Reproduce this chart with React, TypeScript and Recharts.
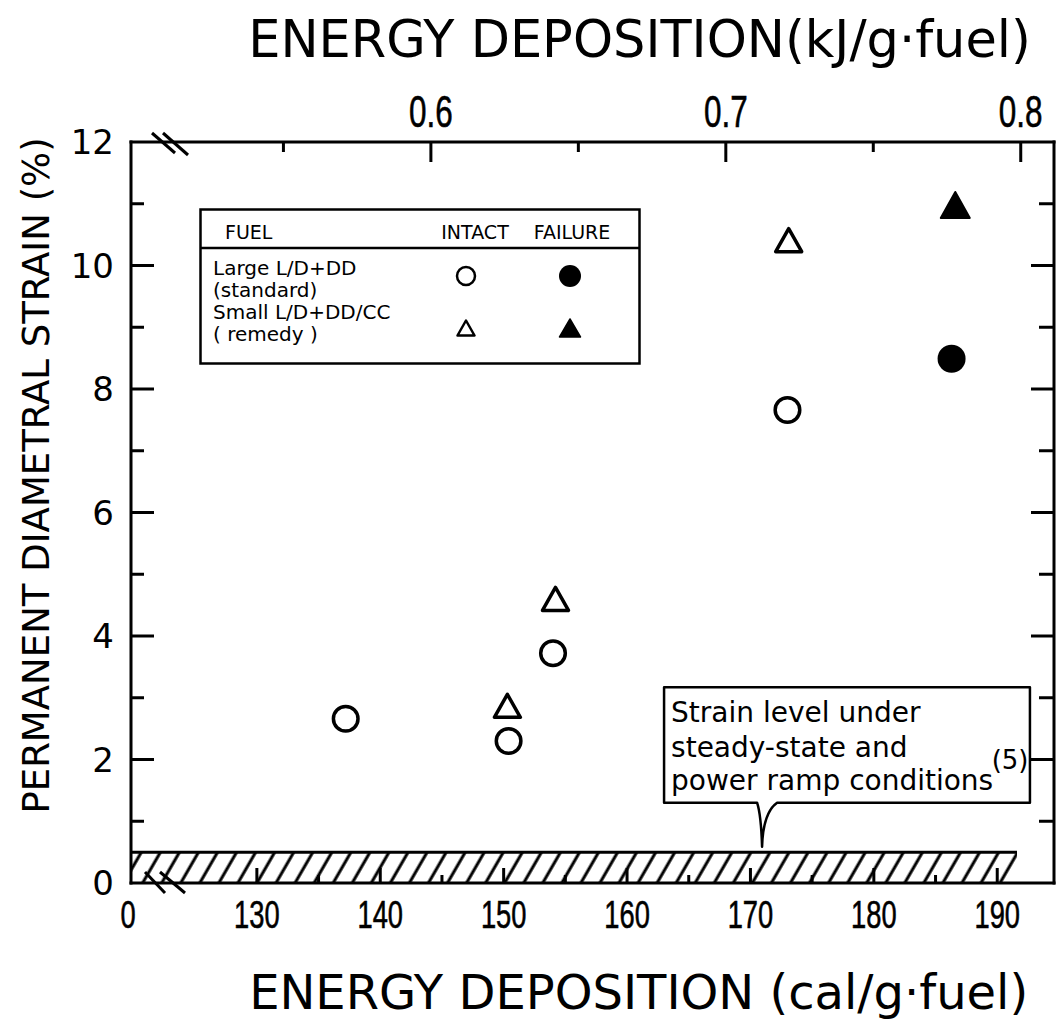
import React from 'react';
import {
  ScatterChart,
  Scatter,
  XAxis,
  YAxis,
  ReferenceArea,
  ReferenceLine,
  Legend,
} from 'recharts';

// energy deposition (cal/g fuel) and permanent diametral strain (%)
const standardIntactEnergy = [137.2, 150.4, 154.0, 173.0];
const standardIntactStrain = [2.66, 2.3, 3.72, 7.66];
const standardFailureEnergy = [186.3];
const standardFailureStrain = [8.49];
const remedyIntactEnergy = [150.3, 154.2, 173.1];
const remedyIntactStrain = [2.87, 4.6, 10.41];
const remedyFailureEnergy = [186.6];
const remedyFailureStrain = [10.98];

const calTicks = [130, 135, 140, 145, 150, 155, 160, 165, 170, 175, 180, 185, 190];
const kjTicks = [0.55, 0.6, 0.65, 0.7, 0.75, 0.8];
const strainTicks = [0, 1, 2, 3, 4, 5, 6, 7, 8, 9, 10, 11, 12];

const xBreak = 119.8; // broken axis, shown as "0"
const xMax = 194.6;
const CAL_PER_KJ = 1000 / 4.184;
const topShift = 0.7; // the printed kJ scale sits slightly right of the exact conversion

// steady-state / power ramp strain level band
const steadyStrain = 0.5;
const steadyEnergyEnd = 191.6;

const legendRows = [
  { lines: ['Large L/D+DD', ' (standard)'], intact: 'circle', failure: 'circle' },
  { lines: ['Small L/D+DD/CC', ' ( remedy )'], intact: 'triangle', failure: 'triangle' },
];

const zip = (xs: number[], ys: number[]) => xs.map((x, i) => ({ x, y: ys[i] }));

const TITLE_FONT = "'DejaVu Sans', sans-serif";
const NUM_FONT = "'Liberation Sans', Arial, sans-serif";
const INK = '#000';

const triPath = (cx: number, cy: number, w: number, h: number) =>
  `M${cx},${cy - h / 2} L${cx + w / 2},${cy + h / 2} L${cx - w / 2},${cy + h / 2} Z`;

const OpenCircle = ({ cx, cy }: any) => (
  <circle cx={cx} cy={cy} r={12.3} fill="none" stroke={INK} strokeWidth={3.5} />
);
const FilledCircle = ({ cx, cy }: any) => <circle cx={cx} cy={cy} r={14} fill={INK} />;
const OpenTriangle = ({ cx, cy }: any) => (
  <path d={triPath(cx, cy, 26, 23)} fill="none" stroke={INK} strokeWidth={3.5} strokeLinejoin="round" />
);
const FilledTriangle = ({ cx, cy }: any) => (
  <path d={triPath(cx, cy, 29, 26)} fill={INK} stroke={INK} strokeWidth={2} strokeLinejoin="round" />
);

const NarrowNum = ({ x, y, size = 39, children }: any) => (
  <g transform={`translate(${x},${y})`}>
    <text
      transform="scale(0.7,1)"
      textAnchor="middle"
      fontFamily={NUM_FONT}
      fontSize={size}
      fill={INK}
      stroke={INK}
      strokeWidth={0.6}
    >
      {children}
    </text>
  </g>
);

function BottomTick({ x, y, payload }: any) {
  const v = payload.value;
  if (v === xBreak) {
    return (
      <g>
        <line x1={x + 14} y1={y - 11} x2={x + 34} y2={y + 10} stroke={INK} strokeWidth={3} />
        <line x1={x + 29} y1={y - 11} x2={x + 54} y2={y + 10} stroke={INK} strokeWidth={3} />
        <NarrowNum x={x - 3} y={y + 45}>0</NarrowNum>
      </g>
    );
  }
  const major = v % 10 === 0;
  return (
    <g>
      <line x1={x} y1={y} x2={x} y2={y - (major ? 15 : 8)} stroke={INK} strokeWidth={3} />
      {major && <NarrowNum x={x} y={y + 45}>{v}</NarrowNum>}
    </g>
  );
}

function TopTick({ x, y, payload }: any) {
  const v = payload.value;
  if (v === xBreak - topShift) {
    return (
      <g>
        <line x1={x + 21} y1={y - 9} x2={x + 44} y2={y + 11} stroke={INK} strokeWidth={3} />
        <line x1={x + 32} y1={y - 9} x2={x + 57} y2={y + 13} stroke={INK} strokeWidth={3} />
      </g>
    );
  }
  const kj = Math.round((v / CAL_PER_KJ) * 100) / 100;
  const major = Math.round(kj * 100) % 10 === 0;
  return (
    <g>
      <line x1={x} y1={y} x2={x} y2={y + (major ? 20 : 10)} stroke={INK} strokeWidth={3} />
      {major && (
        <NarrowNum x={x} y={y - 15} size={45}>
          {kj.toFixed(1)}
        </NarrowNum>
      )}
    </g>
  );
}

function LeftTick({ x, y, payload }: any) {
  const v = payload.value;
  const major = v % 2 === 0;
  const inner = v > 0 && v < 12;
  return (
    <g>
      {inner && <line x1={x} y1={y} x2={x + (major ? 23 : 13)} y2={y} stroke={INK} strokeWidth={3} />}
      {major && (
        <text x={x - 17} y={y} dy="0.36em" textAnchor="end" fontFamily={TITLE_FONT} fontSize={34} fill={INK}>
          {v}
        </text>
      )}
    </g>
  );
}

function RightTick({ x, y, payload }: any) {
  const v = payload.value;
  if (v <= 0 || v >= 12) return <g />;
  const major = v % 2 === 0;
  return <line x1={x} y1={y} x2={x - (major ? 23 : 15)} y2={y} stroke={INK} strokeWidth={3} />;
}

function LegendMarker({ kind, filled, cx, cy }: any) {
  if (kind === 'circle') {
    return filled ? (
      <circle cx={cx} cy={cy} r={11} fill={INK} />
    ) : (
      <circle cx={cx} cy={cy} r={9} fill="none" stroke={INK} strokeWidth={2.5} />
    );
  }
  return filled ? (
    <path d={triPath(cx, cy, 21, 18)} fill={INK} stroke={INK} strokeWidth={1.5} strokeLinejoin="round" />
  ) : (
    <path d={triPath(cx, cy, 17, 15)} fill="none" stroke={INK} strokeWidth={2.5} strokeLinejoin="round" />
  );
}

function LegendTable() {
  return (
    <svg width={442} height={157} style={{ display: 'block' }}>
      <rect x={1.5} y={1.5} width={439} height={154} fill="#fff" stroke={INK} strokeWidth={2.5} />
      <line x1={1.5} y1={40} x2={440.5} y2={40} stroke={INK} strokeWidth={2.5} />
      <g fontFamily={TITLE_FONT} fontSize={19} fill={INK}>
        <text x={26} y={31}>FUEL</text>
        <text x={276} y={31} textAnchor="middle">INTACT</text>
        <text x={373} y={31} textAnchor="middle">FAILURE</text>
        {legendRows.map((row, i) => (
          <g key={row.lines[0]}>
            <text x={14} y={67 + i * 44} fontSize={20}>{row.lines[0]}</text>
            <text x={14} y={89 + i * 44} fontSize={20}>{row.lines[1]}</text>
            <LegendMarker kind={row.intact} filled={false} cx={267} cy={68 + i * 52} />
            <LegendMarker kind={row.failure} filled cx={371} cy={68 + i * 52} />
          </g>
        ))}
      </g>
    </svg>
  );
}

// callout box: "Strain level under steady-state ..."
const noteLeft = 163.0;
const noteRight = 192.65;
const noteBottom = 1.3;
const noteTop = 3.17;

function NoteShape({ x, y, width, height }: any) {
  const b = y + height;
  const d = `M${x},${y} H${x + width} V${b} H${x + 113} Q${x + 99},${b + 10} ${x + 98},${b + 44} Q${x + 97},${b + 12} ${x + 93},${b} H${x} Z`;
  return (
    <g>
      <path d={d} fill="#fff" stroke={INK} strokeWidth={2.5} strokeLinejoin="round" />
      <g fontFamily={TITLE_FONT} fontSize={28} fill={INK}>
        <text x={x + 7} y={y + 35}>Strain level under</text>
        <text x={x + 7} y={y + 70}>steady-state and</text>
        <text x={x + 7} y={y + 103}>power ramp conditions</text>
        <text x={x + 346} y={y + 82} fontSize={26} textAnchor="middle">(5)</text>
      </g>
    </g>
  );
}

const axisLine = { stroke: INK, strokeWidth: 3, strokeLinecap: 'square' as const };

export default function App() {
  const topTicks = [xBreak - topShift, ...kjTicks.map((k) => k * CAL_PER_KJ)];
  return (
    <div style={{ position: 'absolute', left: 0, top: 0, background: '#fff' }}>
      <ScatterChart width={1061} height={1022} margin={{ top: 0, right: 0, bottom: 0, left: 0 }}>
        <defs>
          <pattern id="hatch" patternUnits="userSpaceOnUse" width={16.5} height={16.5} patternTransform="rotate(30)">
            <line x1={4} y1={0} x2={4} y2={16.5} stroke={INK} strokeWidth={3} />
          </pattern>
        </defs>
        <XAxis
          xAxisId="bottom"
          type="number"
          dataKey="x"
          scale="linear"
          domain={[xBreak, xMax]}
          ticks={[xBreak, ...calTicks]}
          interval={0}
          height={139}
          tickSize={0}
          tickMargin={0}
          tickLine={false}
          axisLine={axisLine}
          tick={<BottomTick />}
          allowDataOverflow
          label={({ viewBox }: any) => (
            <text
              x={viewBox.x + viewBox.width * 0.55}
              y={viewBox.y + 126}
              textAnchor="middle"
              fontFamily={TITLE_FONT}
              fontSize={48}
              fill={INK}
            >
              ENERGY DEPOSITION (cal/g·fuel)
            </text>
          )}
        />
        <XAxis
          xAxisId="top"
          orientation="top"
          type="number"
          dataKey="x"
          scale="linear"
          domain={[xBreak - topShift, xMax - topShift]}
          ticks={topTicks}
          interval={0}
          height={142}
          tickSize={0}
          tickMargin={0}
          tickLine={false}
          axisLine={axisLine}
          tick={<TopTick />}
          allowDataOverflow
          label={({ viewBox }: any) => (
            <text
              x={viewBox.x + viewBox.width * 0.551}
              y={viewBox.y + 57}
              textAnchor="middle"
              fontFamily={TITLE_FONT}
              fontSize={51}
              fill={INK}
            >
              ENERGY DEPOSITION(kJ/g·fuel)
            </text>
          )}
        />
        <YAxis
          yAxisId="left"
          type="number"
          dataKey="y"
          domain={[0, 12]}
          ticks={strainTicks}
          interval={0}
          width={131}
          tickSize={0}
          tickMargin={0}
          tickLine={false}
          axisLine={axisLine}
          tick={<LeftTick />}
          allowDataOverflow
          label={({ viewBox }: any) => {
            const lx = viewBox.x + 49;
            const ly = viewBox.y + viewBox.height * 0.45;
            return (
              <text
                x={lx}
                y={ly}
                transform={`rotate(-90 ${lx} ${ly})`}
                textAnchor="middle"
                fontFamily={TITLE_FONT}
                fontSize={37}
                fill={INK}
              >
                PERMANENT DIAMETRAL STRAIN (%)
              </text>
            );
          }}
        />
        <YAxis
          yAxisId="right"
          orientation="right"
          type="number"
          domain={[0, 12]}
          ticks={strainTicks}
          interval={0}
          width={7}
          tickSize={0}
          tickMargin={0}
          tickLine={false}
          axisLine={axisLine}
          tick={<RightTick />}
          allowDataOverflow
        />
        <ReferenceArea
          xAxisId="bottom"
          yAxisId="left"
          x1={xBreak}
          x2={steadyEnergyEnd}
          y1={0}
          y2={steadyStrain}
          fill="url(#hatch)"
          fillOpacity={1}
          stroke="none"
          ifOverflow="visible"
        />
        <ReferenceLine
          xAxisId="bottom"
          yAxisId="left"
          segment={[
            { x: xBreak, y: steadyStrain },
            { x: steadyEnergyEnd, y: steadyStrain },
          ]}
          stroke={INK}
          strokeWidth={3}
          ifOverflow="visible"
        />
        <ReferenceArea
          xAxisId="bottom"
          yAxisId="left"
          x1={noteLeft}
          x2={noteRight}
          y1={noteBottom}
          y2={noteTop}
          shape={<NoteShape />}
          ifOverflow="visible"
        />
        <Scatter
          name="Large L/D+DD intact"
          xAxisId="bottom"
          yAxisId="left"
          data={zip(standardIntactEnergy, standardIntactStrain)}
          shape={<OpenCircle />}
          isAnimationActive={false}
        />
        <Scatter
          name="Large L/D+DD failure"
          xAxisId="bottom"
          yAxisId="left"
          data={zip(standardFailureEnergy, standardFailureStrain)}
          shape={<FilledCircle />}
          isAnimationActive={false}
        />
        <Scatter
          name="Small L/D+DD/CC intact"
          xAxisId="bottom"
          yAxisId="left"
          data={zip(remedyIntactEnergy, remedyIntactStrain)}
          shape={<OpenTriangle />}
          isAnimationActive={false}
        />
        <Scatter
          name="Small L/D+DD/CC failure"
          xAxisId="bottom"
          yAxisId="left"
          data={zip(remedyFailureEnergy, remedyFailureStrain)}
          shape={<FilledTriangle />}
          isAnimationActive={false}
        />
        <Legend
          layout="horizontal"
          verticalAlign="middle"
          align="center"
          content={<LegendTable />}
          wrapperStyle={{ left: 199, top: 208, width: 442, height: 157 }}
        />
      </ScatterChart>
    </div>
  );
}
